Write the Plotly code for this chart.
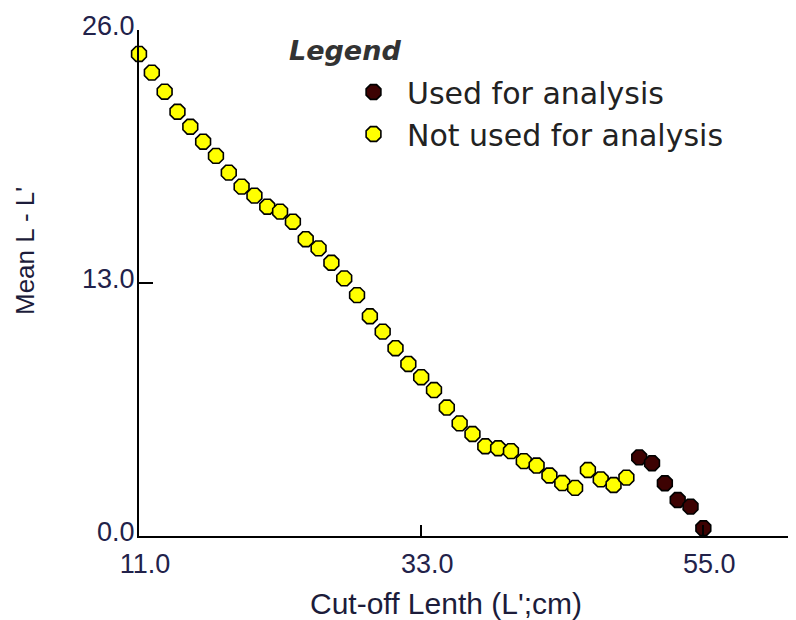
import plotly.graph_objects as go

# Cut-off length L' (cm) and mean L - L'
cutoff_not_used = list(range(11, 50))
mean_not_used = [
    24.77, 23.81, 22.83, 21.80, 21.03, 20.26, 19.53, 18.67, 17.95, 17.49,
    16.92, 16.67, 16.15, 15.25, 14.78, 14.04, 13.24, 12.38, 11.29, 10.50,
    9.65, 8.84, 8.16, 7.50, 6.60, 5.79, 5.24, 4.61, 4.51, 4.36,
    3.85, 3.62, 3.11, 2.72, 2.47, 3.39, 2.91, 2.62, 3.00,
]
cutoff_used = [50, 51, 52, 53, 54, 55]
mean_used = [4.04, 3.74, 2.71, 1.85, 1.51, 0.40]

x_ticks = [11.0, 33.0, 55.0]
y_ticks = [0.0, 13.0, 26.0]

W, H = 796, 620
M = dict(l=139, r=8, t=30, b=84)
pw = W - M["l"] - M["r"]
ph = H - M["t"] - M["b"]

def px_x(px):
    return (px - M["l"]) / pw

def px_y(py):
    return (H - M["b"] - py) / ph

tick_font = dict(family="Liberation Sans, Arial", size=27, color="#22224a")

fig = go.Figure()
fig.add_trace(go.Scatter(
    x=cutoff_used, y=mean_used, mode="markers", name="Used for analysis",
    marker=dict(symbol="octagon", size=16, color="#3d0202",
                line=dict(color="black", width=1.6)),
    cliponaxis=False,
))
fig.add_trace(go.Scatter(
    x=cutoff_not_used, y=mean_not_used, mode="markers", name="Not used for analysis",
    marker=dict(symbol="octagon", size=16, color="#ffff00",
                line=dict(color="black", width=1.6)),
    cliponaxis=False,
))

fig.update_layout(
    width=W, height=H, margin=M,
    paper_bgcolor="white", plot_bgcolor="white",
    showlegend=True,
    legend=dict(
        x=px_x(340), y=px_y(66), xanchor="left", yanchor="top",
        traceorder="normal", itemwidth=57, itemsizing="trace",
        font=dict(family="DejaVu Sans, Verdana", size=30, color="#222222"),
        bgcolor="rgba(0,0,0,0)", tracegroupgap=0,
    ),
    xaxis=dict(
        range=[11, 61.6], tickvals=x_ticks, ticktext=[f"{v:.1f}" for v in x_ticks],
        showgrid=False, zeroline=False, showline=True, linecolor="black", linewidth=2,
        ticks="inside", ticklen=11, tickwidth=2, tickcolor="black",
        tickfont=tick_font, ticklabelstandoff=3, ticklabelshift=6,
    ),
    yaxis=dict(
        range=[0, 26], tickvals=y_ticks, ticktext=[f"{v:.1f}" for v in y_ticks],
        showgrid=False, zeroline=False, showline=True, linecolor="black", linewidth=2,
        ticks="inside", ticklen=14, tickwidth=2, tickcolor="black",
        tickfont=tick_font, ticklabelstandoff=-3, ticklabelshift=-4,
    ),
    annotations=[
        dict(text="<b><i>Legend</i></b>", xref="paper", yref="paper",
             x=px_x(345), y=px_y(50), xanchor="center", yanchor="middle",
             showarrow=False,
             font=dict(family="DejaVu Sans, Verdana", size=27, color="#333333")),
        dict(text="Cut-off Lenth (L';cm)", xref="paper", yref="paper",
             x=px_x(446), y=px_y(603), xanchor="center", yanchor="middle",
             showarrow=False,
             font=dict(family="Liberation Sans, Arial", size=30, color="#1c1c3a")),
        dict(text="Mean L - L'", xref="paper", yref="paper", textangle=-90,
             x=px_x(25), y=px_y(251), xanchor="center", yanchor="middle",
             showarrow=False,
             font=dict(family="Liberation Sans, Arial", size=26, color="#1c1c3a")),
    ],
)

fig.write_html("out.html")
